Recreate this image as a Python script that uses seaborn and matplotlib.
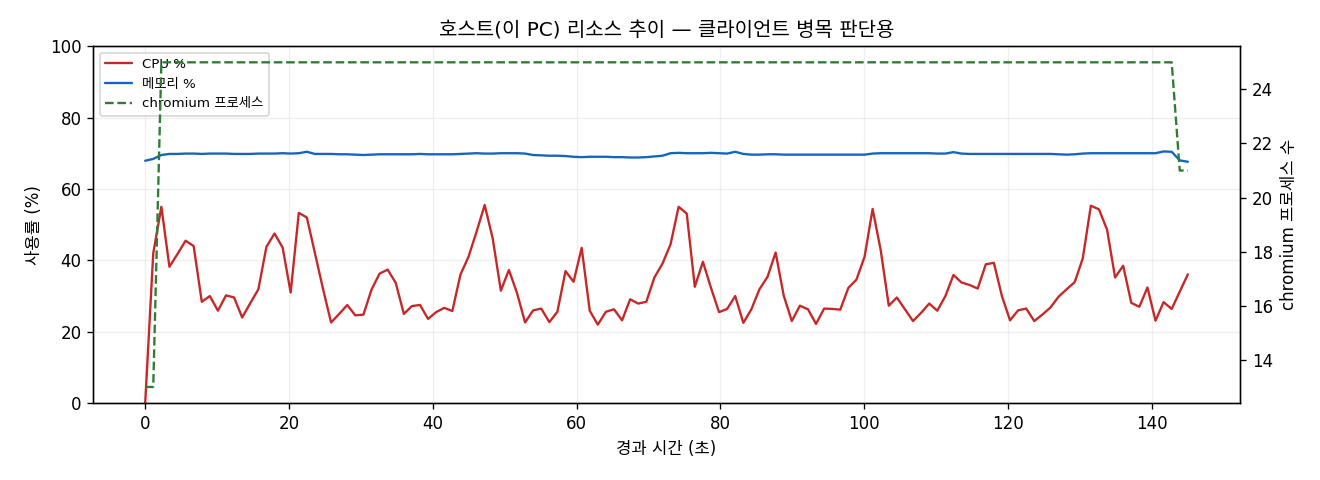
import numpy as np
import pandas as pd
import matplotlib
matplotlib.use("Agg")
import matplotlib.pyplot as plt
import seaborn as sns

elapsed_s = [
    0.00, 1.12, 2.25, 3.37, 4.50, 5.62, 6.74, 7.87, 8.99, 10.12,
    11.24, 12.36, 13.49, 14.61, 15.74, 16.86, 17.98, 19.11, 20.23, 21.36,
    22.48, 23.60, 24.73, 25.85, 26.98, 28.10, 29.22, 30.35, 31.47, 32.60,
    33.72, 34.84, 35.97, 37.09, 38.22, 39.34, 40.46, 41.59, 42.71, 43.84,
    44.96, 46.08, 47.21, 48.33, 49.46, 50.58, 51.70, 52.83, 53.95, 55.08,
    56.20, 57.32, 58.45, 59.57, 60.70, 61.82, 62.94, 64.07, 65.19, 66.32,
    67.44, 68.56, 69.69, 70.81, 71.94, 73.06, 74.18, 75.31, 76.43, 77.56,
    78.68, 79.80, 80.93, 82.05, 83.18, 84.30, 85.42, 86.55, 87.67, 88.80,
    89.92, 91.04, 92.17, 93.29, 94.42, 95.54, 96.66, 97.79, 98.91, 100.04,
    101.16, 102.28, 103.41, 104.53, 105.66, 106.78, 107.90, 109.03, 110.15, 111.28,
    112.40, 113.52, 114.65, 115.77, 116.90, 118.02, 119.14, 120.27, 121.39, 122.52,
    123.64, 124.76, 125.89, 127.01, 128.14, 129.26, 130.38, 131.51, 132.63, 133.76,
    134.88, 136.00, 137.13, 138.25, 139.38, 140.50, 141.62, 142.75, 143.87, 145.00,
]

cpu_pct = [
    0.0, 42.0, 55.0, 38.2, 41.8, 45.5, 44.0, 28.4, 30.0, 25.9,
    30.2, 29.6, 24.0, 28.0, 31.9, 43.8, 47.5, 43.6, 31.0, 53.3,
    52.0, 42.0, 32.0, 22.6, 25.0, 27.5, 24.6, 24.8, 31.8, 36.3,
    37.4, 33.7, 25.0, 27.2, 27.5, 23.6, 25.5, 26.7, 25.8, 36.0,
    41.0, 48.0, 55.5, 46.1, 31.5, 37.3, 30.9, 22.6, 26.0, 26.5,
    22.7, 25.6, 37.0, 34.0, 43.5, 25.9, 22.0, 25.6, 26.3, 23.2,
    29.1, 27.9, 28.4, 35.2, 39.1, 44.5, 55.0, 53.1, 32.6, 39.6,
    32.3, 25.5, 26.4, 30.0, 22.5, 26.3, 31.9, 35.4, 42.2, 30.1,
    23.0, 27.3, 26.3, 22.2, 26.5, 26.4, 26.2, 32.3, 34.6, 41.0,
    54.4, 42.9, 27.3, 29.6, 26.3, 23.0, 25.3, 27.9, 25.9, 30.0,
    35.9, 33.8, 33.1, 32.1, 38.9, 39.3, 30.0, 23.2, 26.0, 26.5,
    23.0, 24.8, 26.8, 29.8, 31.9, 33.9, 40.5, 55.3, 54.3, 48.6,
    35.2, 38.5, 28.1, 27.0, 32.4, 23.1, 28.3, 26.4, 31.2, 36.1,
]

mem_pct = [
    67.9, 68.4, 69.5, 69.8, 69.8, 69.9, 69.9, 69.8, 69.9, 69.9,
    69.9, 69.8, 69.8, 69.8, 69.9, 69.9, 69.9, 70.0, 69.9, 70.0,
    70.4, 69.8, 69.8, 69.8, 69.7, 69.7, 69.6, 69.5, 69.6, 69.7,
    69.7, 69.7, 69.7, 69.7, 69.8, 69.7, 69.7, 69.7, 69.7, 69.8,
    69.9, 70.0, 69.9, 69.9, 70.0, 70.0, 70.0, 69.9, 69.5, 69.4,
    69.3, 69.3, 69.2, 69.0, 68.9, 69.0, 69.0, 69.0, 68.9, 68.9,
    68.8, 68.8, 68.9, 69.1, 69.3, 70.0, 70.1, 70.0, 70.0, 70.0,
    70.1, 70.0, 69.9, 70.4, 69.8, 69.6, 69.6, 69.7, 69.7, 69.6,
    69.6, 69.6, 69.6, 69.6, 69.6, 69.6, 69.6, 69.6, 69.6, 69.6,
    69.9, 70.0, 70.0, 70.0, 70.0, 70.0, 70.0, 70.0, 69.9, 69.9,
    70.3, 69.9, 69.8, 69.8, 69.8, 69.8, 69.8, 69.8, 69.8, 69.8,
    69.8, 69.8, 69.8, 69.7, 69.6, 69.7, 69.9, 70.0, 70.0, 70.0,
    70.0, 70.0, 70.0, 70.0, 70.0, 70.0, 70.5, 70.4, 68.0, 67.6,
]

chromium_procs = [13, 13] + [25] * 126 + [21, 21]

df = pd.DataFrame({
    "t": elapsed_s,
    "cpu": cpu_pct,
    "mem": mem_pct,
    "chrom": chromium_procs,
})

sns.set_style("ticks", rc={
    "axes.edgecolor": "black",
    "text.color": "black",
    "axes.labelcolor": "black",
    "xtick.color": "black",
    "ytick.color": "black",
})
plt.rcParams["font.family"] = ["DejaVu Sans", "Noto Sans CJK KR"]

fig, ax = plt.subplots(figsize=(11, 4), dpi=120)
fig.subplots_adjust(left=0.0705, right=0.9394, top=0.904, bottom=0.16)

sns.lineplot(data=df, x="t", y="cpu", ax=ax, color="#c62828", lw=1.4, label="CPU %", legend=False)
sns.lineplot(data=df, x="t", y="mem", ax=ax, color="#1565c0", lw=1.4, label="메모리 %", legend=False)
ax.set_ylim(0, 100)
ax.set_ylabel("사용률 (%)", fontsize=10)
ax.set_xlabel("경과 시간 (초)", fontsize=10)
ax.grid(True, alpha=0.3)
ax.tick_params(labelsize=10)

ax2 = ax.twinx()
sns.lineplot(data=df, x="t", y="chrom", ax=ax2, color="#2e7d32", lw=1.4, linestyle="--",
             label="chromium 프로세스", legend=False)
ax2.set_ylabel("chromium 프로세스 수", fontsize=10)
ax2.tick_params(labelsize=10)
ax2.set_xlabel("경과 시간 (초)", fontsize=10)

h1, l1 = ax.get_legend_handles_labels()
h2, l2 = ax2.get_legend_handles_labels()
ax.legend(h1 + h2, l1 + l2, loc="upper left", fontsize=8)

ax.set_title("호스트(이 PC) 리소스 추이 — 클라이언트 병목 판단용", fontsize=12)

fig.savefig("out.png", dpi=120)
